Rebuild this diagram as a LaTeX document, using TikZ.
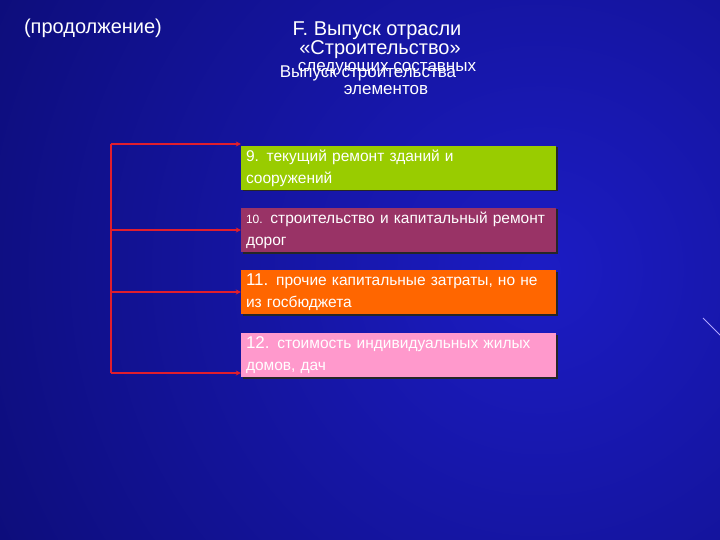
\documentclass[tikz,border=0pt]{standalone}
\usepackage{fontspec}
\setmainfont{Liberation Sans}
\usetikzlibrary{calc,positioning,arrows.meta,shadows}
\definecolor{bgdark}{RGB}{6,6,88}
\definecolor{bglight}{RGB}{28,28,196}
\definecolor{linkred}{RGB}{225,30,45}
\definecolor{boxgreen}{RGB}{153,204,0}
\definecolor{boxplum}{RGB}{153,51,102}
\definecolor{boxorange}{RGB}{255,102,0}
\definecolor{boxpink}{RGB}{255,153,204}
\definecolor{streak}{RGB}{175,165,255}
\tikzstyle{itembox}   = [draw=none, minimum width=315pt, minimum height=44pt, text width=305pt, inner xsep=5pt, align=left, text=white, font=\fontsize{15.5}{22}\selectfont, drop shadow={shadow xshift=1.5pt, shadow yshift=-1.5pt, fill=black!85, opacity=1}]
\tikzstyle{linkarrow} = [draw=linkred, line width=1.6pt, -{Stealth[length=5pt,width=5pt]}]
\tikzstyle{busline}   = [draw=linkred, line width=1.6pt]
\tikzstyle{titletext} = [text=white, inner sep=0pt, font=\fontsize{20}{20}\selectfont]
\tikzstyle{subtext}   = [text=white, inner sep=0pt, font=\fontsize{17}{18}\selectfont]

\begin{document}
\begin{tikzpicture}[x=1pt,y=-1pt]
    \useasboundingbox (0,0) rectangle (720,540);
    % background
    \fill[bgdark] (0,0) rectangle (720,540);
    \begin{scope}
        \clip (0,0) rectangle (720,540);
        \shade[inner color=bglight, outer color=bgdark] (540,270) circle (900pt);
    \end{scope}
    \draw[streak, line width=1pt] (703,318) -- (722,337);

    % headings
    \node[titletext] (cont) at (93,28) {(продолжение)};
    \node[titletext] (head1) at (377,31) {F. Выпуск отрасли};
    \node[titletext] (head2) at (380,50) {«Строительство»};
    \node[subtext] (sub1) at (368,73) {Выпуск строительства};
    \node[subtext] (sub2) at (387,69) {следующих составных};
    \node[subtext] (sub3) at (386,90) {элементов};

    % boxes
    \node[itembox, fill=boxgreen]  (b9)  at (398.5,168) {\mbox{9. текущий ремонт зданий и}\\сооружений};
    \node[itembox, fill=boxplum]   (b10) at (398.5,230) {\mbox{{\fontsize{12}{22}\selectfont 10.} строительство и капитальный ремонт}\\дорог};
    \node[itembox, fill=boxorange] (b11) at (398.5,292) {\mbox{{\fontsize{17}{22}\selectfont 11.} прочие капитальные затраты, но не}\\из госбюджета};
    \node[itembox, fill=boxpink]   (b12) at (398.5,355) {\mbox{{\fontsize{17}{22}\selectfont 12.} стоимость индивидуальных жилых}\\домов, дач};

    % connectors
    \coordinate (bustop) at (111,144);
    \coordinate (busend) at (111,373);
    \draw[busline] (bustop) -- (busend);
    \draw[linkarrow] (bustop) -- (bustop -| b9.west);
    \draw[linkarrow] (bustop |- b10.west) -- (b10.west);
    \draw[linkarrow] (bustop |- b11.west) -- (b11.west);
    \draw[linkarrow] (busend) -- (busend -| b12.west);
\end{tikzpicture}
\end{document}
